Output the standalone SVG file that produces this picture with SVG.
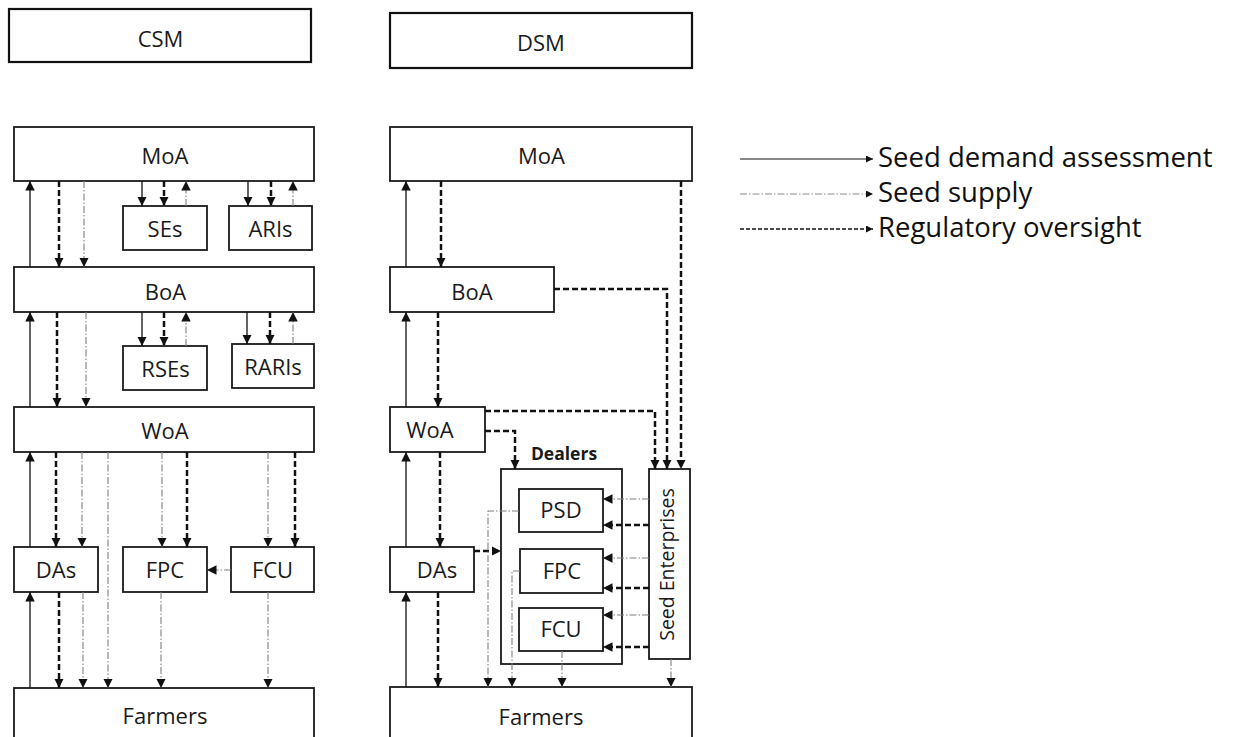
<svg xmlns="http://www.w3.org/2000/svg" width="1234" height="737" viewBox="0 0 1234 737">
<defs>
<style>
.box{fill:#fff;stroke:#1a1a1a;stroke-width:1.8}
.hdr{fill:#fff;stroke:#111;stroke-width:2.2}
.t{font-family:"Open Sans","Liberation Sans",sans-serif;font-size:22px;fill:#1a1a1a;text-anchor:middle}
.tb{font-family:"Open Sans","Liberation Sans",sans-serif;font-size:17.5px;font-weight:bold;fill:#1a1a1a;text-anchor:middle}
.lg{font-family:"Open Sans","Liberation Sans",sans-serif;font-size:27.5px;fill:#111}
.dem{fill:none;stroke:#111;stroke-width:1.3;marker-end:url(#ah)}
.sup{fill:none;stroke:#808080;stroke-width:1.1;stroke-dasharray:7 2 1.5 2;marker-end:url(#ah)}
.reg{fill:none;stroke:#111;stroke-width:2.5;stroke-dasharray:6 3;marker-end:url(#ah)}
.ldem{fill:none;stroke:#111;stroke-width:1.1;marker-end:url(#as)}
.lsup{fill:none;stroke:#8a8a8a;stroke-width:1;stroke-dasharray:7 2 1.5 2;marker-end:url(#as)}
.lreg{fill:none;stroke:#111;stroke-width:1.6;stroke-dasharray:4 2;marker-end:url(#as)}
</style>
<marker id="ah" viewBox="0 0 10 10" refX="10" refY="5" markerWidth="9.5" markerHeight="9.5" markerUnits="userSpaceOnUse" orient="auto"><path d="M0,0 L10,5 L0,10 Z" fill="#111"/></marker>
<marker id="as" viewBox="0 0 10 10" refX="10" refY="5" markerWidth="7" markerHeight="7" markerUnits="userSpaceOnUse" orient="auto"><path d="M0,0 L10,5 L0,10 Z" fill="#111"/></marker>
</defs>

<!-- CSM column -->
<g id="csm"><rect class="hdr" x="9" y="9" width="302" height="53"/><text class="t" x="160.5" y="47">CSM</text></g>
<g id="csm-moa"><rect class="box" x="14" y="127" width="300" height="54"/><text class="t" x="165" y="164">MoA</text></g>
<g id="csm-ses"><rect class="box" x="123" y="206" width="84" height="44"/><text class="t" x="165" y="237">SEs</text></g>
<g id="csm-aris"><rect class="box" x="229" y="206" width="83" height="44"/><text class="t" x="270.5" y="237">ARIs</text></g>
<g id="csm-boa"><rect class="box" x="14" y="267" width="300" height="45"/><text class="t" x="165.5" y="300">BoA</text></g>
<g id="csm-rses"><rect class="box" x="123" y="346" width="84" height="44"/><text class="t" x="165.5" y="377">RSEs</text></g>
<g id="csm-raris"><rect class="box" x="232" y="344" width="82" height="44"/><text class="t" x="273" y="375">RARIs</text></g>
<g id="csm-woa"><rect class="box" x="14" y="407" width="300" height="45"/><text class="t" x="165" y="438.5">WoA</text></g>
<g id="csm-das"><rect class="box" x="14" y="547" width="84" height="45"/><text class="t" x="56" y="578">DAs</text></g>
<g id="csm-fpc"><rect class="box" x="123" y="547" width="84" height="45"/><text class="t" x="165" y="578">FPC</text></g>
<g id="csm-fcu"><rect class="box" x="231" y="547" width="83" height="45"/><text class="t" x="272.5" y="578">FCU</text></g>
<g id="csm-farmers"><rect class="box" x="14" y="688" width="300" height="80"/><text class="t" x="165" y="724">Farmers</text></g>

<!-- DSM column -->
<g id="dsm"><rect class="hdr" x="390" y="13" width="302" height="55"/><text class="t" x="541" y="51">DSM</text></g>
<g id="dsm-moa"><rect class="box" x="390" y="127" width="302" height="54"/><text class="t" x="541.5" y="164">MoA</text></g>
<g id="dsm-boa"><rect class="box" x="390" y="267" width="164" height="45"/><text class="t" x="472" y="300">BoA</text></g>
<g id="dsm-woa"><rect class="box" x="390" y="407" width="95" height="45"/><text class="t" x="430" y="438">WoA</text></g>
<g id="dsm-das"><rect class="box" x="390" y="547" width="84" height="45"/><text class="t" x="437" y="578">DAs</text></g>
<g id="dealers"><rect class="box" x="501" y="469" width="121" height="195"/><text class="tb" x="564" y="460">Dealers</text></g>
<g id="dsm-psd"><rect class="box" x="519" y="489" width="84" height="43"/><text class="t" x="561" y="518">PSD</text></g>
<g id="dsm-fpc"><rect class="box" x="520" y="549" width="83" height="44"/><text class="t" x="562" y="579">FPC</text></g>
<g id="dsm-fcu"><rect class="box" x="519" y="608" width="84" height="43"/><text class="t" x="561" y="637">FCU</text></g>
<g id="seed-enterprises"><rect class="box" x="649" y="469" width="41" height="190"/><text class="t" style="font-size:19.5px" transform="translate(674,564.5) rotate(-90)">Seed Enterprises</text></g>
<g id="dsm-farmers"><rect class="box" x="390" y="687" width="302" height="80"/><text class="t" x="541" y="725">Farmers</text></g>

<!-- connectors -->
<g id="connectors">
<path class="dem" d="M30,267 V181"/>
<path class="dem" d="M30,407 V312"/>
<path class="dem" d="M30,547 V452"/>
<path class="dem" d="M30,688 V592"/>
<path class="dem" d="M142,181 V206"/>
<path class="dem" d="M248,181 V206"/>
<path class="dem" d="M142,312 V346"/>
<path class="dem" d="M247,312 V344"/>
<path class="reg" d="M59,181 V267"/>
<path class="reg" d="M164,181 V206"/>
<path class="reg" d="M271,181 V206"/>
<path class="reg" d="M57,312 V407"/>
<path class="reg" d="M164,312 V346"/>
<path class="reg" d="M270,312 V344"/>
<path class="reg" d="M56,452 V547"/>
<path class="reg" d="M187,452 V547"/>
<path class="reg" d="M295,452 V547"/>
<path class="reg" d="M59,592 V688"/>
<path class="sup" d="M84,181 V267"/>
<path class="sup" d="M186,206 V181"/>
<path class="sup" d="M293,206 V181"/>
<path class="sup" d="M86,312 V407"/>
<path class="sup" d="M186,346 V312"/>
<path class="sup" d="M293,344 V312"/>
<path class="sup" d="M82,452 V547"/>
<path class="sup" d="M108,452 V688"/>
<path class="sup" d="M162,452 V547"/>
<path class="sup" d="M268,452 V547"/>
<path class="sup" d="M231,570 H207"/>
<path class="sup" d="M83,592 V688"/>
<path class="sup" d="M161,592 V688"/>
<path class="sup" d="M268,592 V688"/>
<path class="dem" d="M406,267 V181"/>
<path class="dem" d="M406,407 V312"/>
<path class="dem" d="M406,547 V452"/>
<path class="dem" d="M406,687 V592"/>
<path class="reg" d="M441,181 V267"/>
<path class="reg" d="M438,312 V407"/>
<path class="reg" d="M440,452 V547"/>
<path class="reg" d="M438,592 V687"/>
<path class="reg" d="M681,181 V469"/>
<path class="reg" d="M554,289 H667 V469"/>
<path class="reg" d="M485,411 H655 V469"/>
<path class="reg" d="M485,431 H515 V469"/>
<path class="reg" d="M474,551 H501"/>
<path class="reg" d="M649,525 H603"/>
<path class="reg" d="M649,588 H603"/>
<path class="reg" d="M649,647 H603"/>
<path class="sup" d="M649,499 H603"/>
<path class="sup" d="M649,558 H603"/>
<path class="sup" d="M649,615 H603"/>
<path class="sup" d="M519,511 H488 V687"/>
<path class="sup" d="M520,571 H512 V687"/>
<path class="sup" d="M562,651 V687"/>
<path class="sup" d="M671,659 V687"/>
</g>

<!-- legend -->
<g id="legend">
<path class="ldem" d="M740,159 H873"/>
<path class="lsup" d="M740,194 H873"/>
<path class="lreg" d="M740,229 H873"/>
<text class="lg" x="878" y="167">Seed demand assessment</text>
<text class="lg" x="878" y="202">Seed supply</text>
<text class="lg" x="878" y="237">Regulatory oversight</text>
</g>
</svg>
